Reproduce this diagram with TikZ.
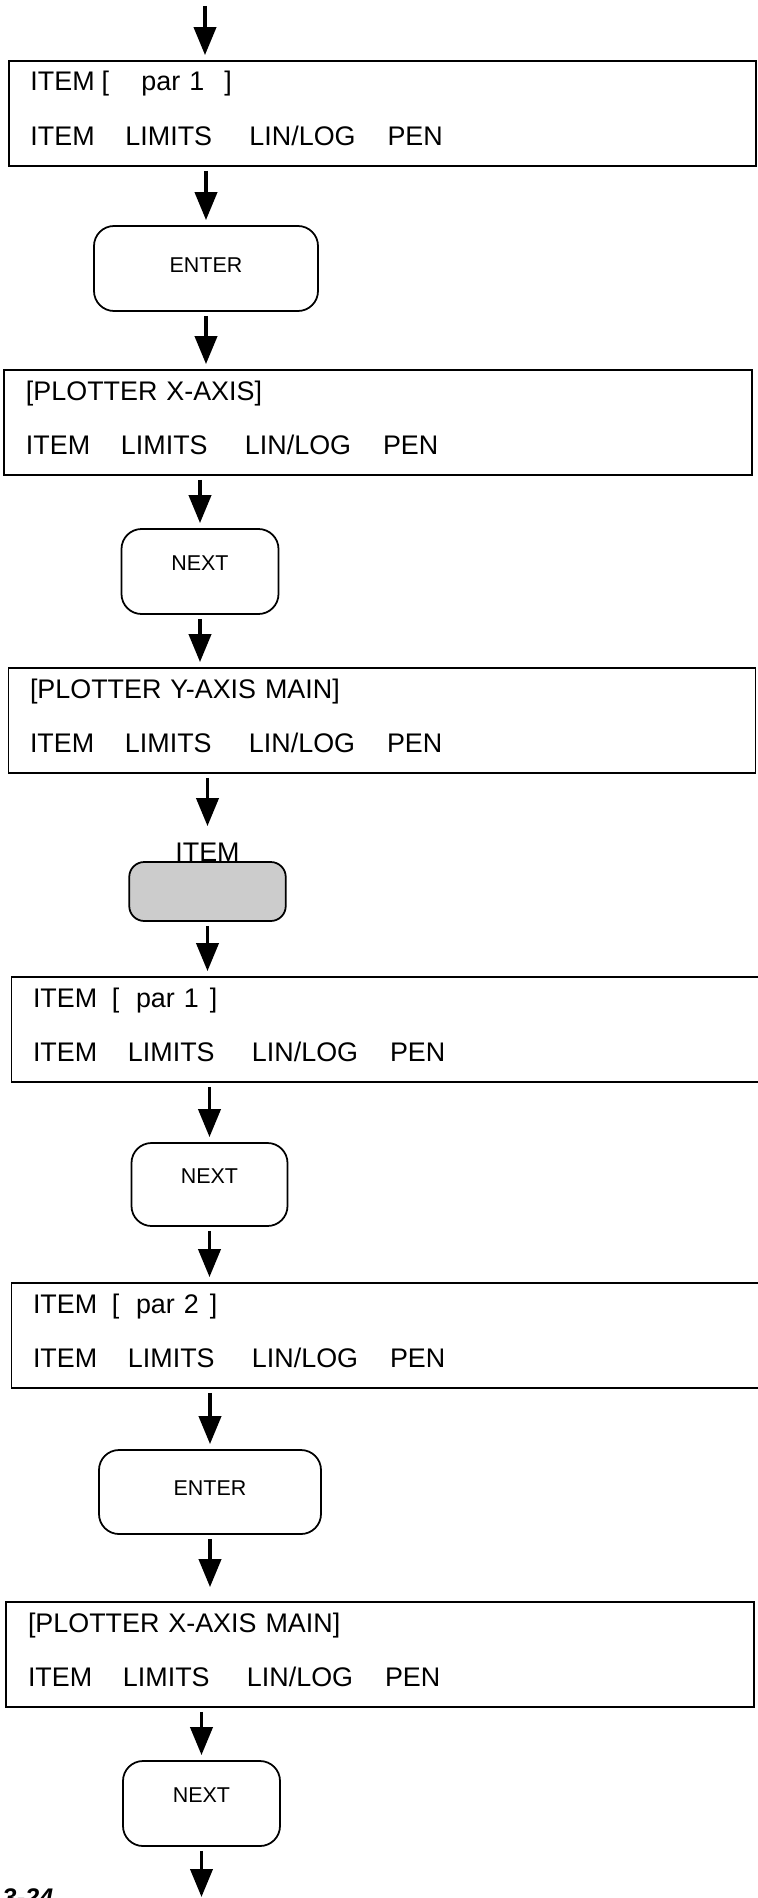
\documentclass[tikz,border=0pt]{standalone}
\usepackage{fontspec}
\setmainfont{Liberation Sans}
\usetikzlibrary{arrows.meta,positioning}
\definecolor{keygrey}{HTML}{CCCCCC}
\newcommand{\scrfont}{\fontsize{15.3}{31}\selectfont}
\newcommand{\keyfont}{\fontsize{12.2}{14}\selectfont}
\newcommand{\keyrow}{\makebox[1.9cm][l]{ITEM}\makebox[2.48cm][l]{LIMITS}\makebox[2.76cm][l]{LIN/LOG}PEN}

\begin{document}
\begin{tikzpicture}[font=\scrfont,
  scr/.style={draw,line width=1pt,minimum width=14.94cm,text width=14.08cm,
              inner xsep=0.43cm,inner ysep=0pt,text height=0.6cm,text depth=1.5cm,align=left},
  key/.style={draw,line width=1pt,rounded corners=0.4cm,minimum width=3.14cm,
              minimum height=1.7cm,font=\keyfont,text depth=0.34cm},
  softkey/.style={draw,line width=1pt,fill=keygrey,rounded corners=0.3cm,
              minimum width=3.13cm,minimum height=1.18cm},
  arr/.style={-{Triangle[length=0.56cm,width=0.44cm]},line width=2.2pt,
              shorten <=0.08cm,shorten >=0.1cm}]
\useasboundingbox (0,0) rectangle (15.16,-37.96);

\node[scr](b1) at (7.65,-2.27){\makebox[1.42cm][l]{ITEM}\makebox[0.8cm][l]{[}\makebox[1.66cm][l]{par 1}]\\\keyrow};
\node[key,minimum width=4.48cm,text depth=0.14cm](e1) at (4.12,-5.37){ENTER};
\node[scr,minimum width=14.96cm](b2) at (7.56,-8.45){[PLOTTER X-AXIS]\\\keyrow};
\node[key](n1) at (4.00,-11.43){NEXT};
\node[scr,minimum width=14.92cm](b3) at (7.64,-14.41){[PLOTTER Y-AXIS MAIN]\\\keyrow};
\node[softkey](g1) at (4.15,-17.83){};
\node[anchor=base,inner sep=0pt](g1t) at (g1.north){ITEM};
\node[scr,minimum width=14.92cm](b4) at (7.70,-20.59){\makebox[1.58cm][l]{ITEM}\makebox[0.48cm][l]{[}\makebox[1.48cm][l]{par 1}]\\\keyrow};
\node[key,minimum width=3.12cm,minimum height=1.66cm](n2) at (4.19,-23.69){NEXT};
\node[scr,minimum width=14.92cm](b5) at (7.70,-26.71){\makebox[1.58cm][l]{ITEM}\makebox[0.48cm][l]{[}\makebox[1.48cm][l]{par 2}]\\\keyrow};
\node[key,minimum width=4.44cm,minimum height=1.68cm,text depth=0.14cm](e2) at (4.20,-29.84){ENTER};
\node[scr,minimum width=14.96cm](b6) at (7.60,-33.09){[PLOTTER X-AXIS MAIN]\\\keyrow};
\node[key](n3) at (4.03,-36.07){NEXT};

\node[anchor=north west,inner sep=0pt,font=\fontsize{14.5}{16}\selectfont\bfseries\itshape](pg) at (0.04,-37.76){3-24};

\coordinate (top) at (4.1,-0.04);
\coordinate (bot) at (4.06,-37.94);

\draw[arr](top)--(top |- b1.north);
\draw[arr](b1.south -| e1)--(e1); \draw[arr](e1)--(e1 |- b2.north);
\draw[arr](b2.south -| n1)--(n1); \draw[arr](n1)--(n1 |- b3.north);
\draw[arr,shorten >=0.7cm](b3.south -| g1)--(g1); \draw[arr](g1)--(g1 |- b4.north);
\draw[arr](b4.south -| n2)--(n2); \draw[arr](n2)--(n2 |- b5.north);
\draw[arr](b5.south -| e2)--(e2); \draw[arr,shorten >=0.28cm](e2)--(e2 |- b6.north);
\draw[arr](b6.south -| n3)--(n3); \draw[arr,shorten >=0pt](n3)--(n3 |- bot);
\end{tikzpicture}
\end{document}
